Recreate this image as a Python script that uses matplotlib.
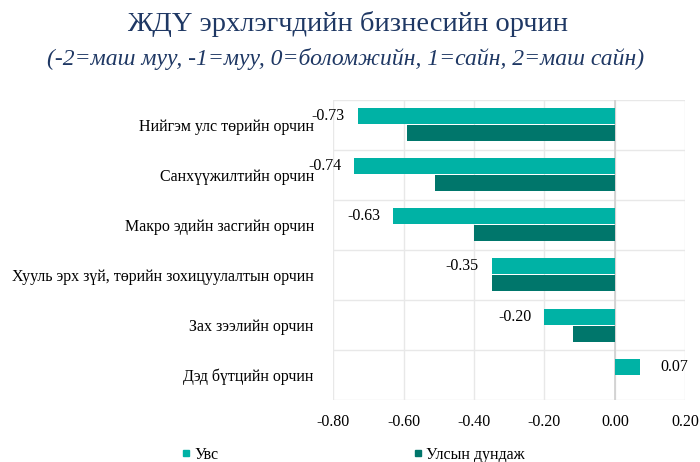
import matplotlib.pyplot as plt
import numpy as np
from matplotlib.lines import Line2D

plt.rcParams['font.family'] = ['Liberation Serif', 'DejaVu Serif']

categories = [
    "Нийгэм улс төрийн орчин",
    "Санхүүжилтийн орчин",
    "Макро эдийн засгийн орчин",
    "Хууль эрх зүй, төрийн зохицуулалтын орчин",
    "Зах зээлийн орчин",
    "Дэд бүтцийн орчин",
]
uvs = [-0.73, -0.74, -0.63, -0.35, -0.20, 0.07]
national = [-0.59, -0.51, -0.40, -0.35, -0.12, 0.0]
series_names = ["Увс", "Улсын дундаж"]
xticks = [-0.8, -0.6, -0.4, -0.2, 0.0, 0.2]

teal = "#00B2A5"
dark = "#00766B"
navy = "#1F3864"

fig = plt.figure(figsize=(7, 4.62), dpi=100)
ax = fig.add_axes([0.476, 0.134, 0.503, 0.65])

y = np.arange(len(categories))
h = 0.32
ax.barh(y - 0.17, uvs, height=h, color=teal, zorder=3)
ax.barh(y + 0.17, national, height=h, color=dark, zorder=3)

# value labels for Увс
for yi, v in zip(y, uvs):
    if v < 0:
        ax.text(v - 0.037, yi - 0.17, f"{v:.2f}", ha="right", va="center",
                fontsize=11.5, color="black", zorder=4, clip_on=False)
    else:
        ax.text(v + 0.06, yi - 0.17, f"{v:.2f}", ha="left", va="center",
                fontsize=11.5, color="black", zorder=4)

ax.set_xlim(-0.8, 0.2)
ax.set_ylim(len(categories) - 0.5, -0.5)
ax.set_xticks(xticks)
ax.set_xticklabels([f"{t:.2f}" for t in xticks], fontsize=11.5)
ax.set_yticks(y)
ax.set_yticklabels(categories, fontsize=11.5)
ax.set_yticks(np.arange(len(categories) + 1) - 0.5, minor=True)

ax.tick_params(axis="both", which="both", length=0)
ax.tick_params(axis="x", pad=10)
ax.tick_params(axis="y", pad=14)
ax.grid(True, axis="x", which="major", color="#E8E8E8", lw=1, zorder=0)
ax.grid(True, axis="y", which="minor", color="#E8E8E8", lw=1, zorder=0)
for s in ax.spines.values():
    s.set_visible(False)
ax.axvline(0, color="#CFCFCF", lw=1.2, zorder=2)

fig.text(0.497, 0.948, "ЖДҮ эрхлэгчдийн бизнесийн орчин", ha="center", va="center",
         fontsize=20.5, color=navy)
fig.text(0.494, 0.872, "(-2=маш муу, -1=муу, 0=боломжийн, 1=сайн, 2=маш сайн)",
         ha="center", va="center", fontsize=17, color=navy, style="italic")

handles = [Line2D([], [], marker="s", ls="", color=c, markersize=5) for c in (teal, dark)]
for hd, name, xp in zip(handles, series_names, [0.248, 0.579]):
    fig.legend([hd], [name], loc="center left", bbox_to_anchor=(xp, 0.015),
               frameon=False, fontsize=11.5, handletextpad=0.1, handlelength=0.8,
               borderaxespad=0)

fig.savefig("out.png", dpi=100)
